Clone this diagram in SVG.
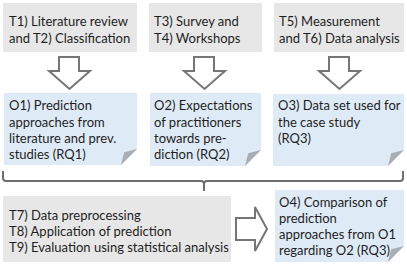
<svg xmlns="http://www.w3.org/2000/svg" width="407" height="265" viewBox="0 0 407 265">
<style>
.task{fill:#e7e7e7}
.out{fill:#deebf7}
.fold{fill:#a9aeb4}
.arr{fill:#ffffff;stroke:#767676;stroke-width:2;stroke-linejoin:miter}
.brace{fill:none;stroke:#6e6e6e;stroke-width:2}
text{font-family:Lato,"Liberation Sans",sans-serif;font-size:13px;fill:#1e1e1e}
</style>
<rect width="407" height="265" fill="#ffffff"/>
<g id="t1t2"><rect class="task" x="3" y="3" width="134" height="49"/><text x="9" y="26">T1) Literature review</text><text x="9" y="43">and T2) Classification</text></g>
<g id="t3t4"><rect class="task" x="149" y="3" width="113" height="49"/><text x="154" y="26">T3) Survey and</text><text x="154" y="43">T4) Workshops</text></g>
<g id="t5t6"><rect class="task" x="274" y="3" width="130" height="49"/><text x="279" y="26">T5) Measurement</text><text x="279" y="43">and T6) Data analysis</text></g>
<g id="o1"><path class="out" d="M4,93 H137 V149 L121,165 H4 Z"/><path class="fold" d="M121,165 L124.2,152.2 L137,149 Z"/><text x="9" y="110">O1) Prediction</text><text x="9" y="127">approaches from</text><text x="9" y="143">literature and prev.</text><text x="9" y="159">studies (RQ1)</text></g>
<g id="o2"><path class="out" d="M150,93 H261 V150 L245,166 H150 Z"/><path class="fold" d="M245,166 L248.2,153.2 L261,150 Z"/><text x="154" y="110">O2) Expectations</text><text x="154" y="127">of practitioners</text><text x="154" y="143">towards pre-</text><text x="154" y="159">diction (RQ2)</text></g>
<g id="o3"><path class="out" d="M273,94 H404 V150 L388,166 H273 Z"/><path class="fold" d="M388,166 L391.2,153.2 L404,150 Z"/><text x="278" y="110">O3) Data set used for</text><text x="278" y="127">the case study</text><text x="278" y="143">(RQ3)</text></g>
<g id="t7t9"><rect class="task" x="3" y="196" width="228" height="66"/><text x="9" y="220">T7) Data preprocessing</text><text x="9" y="236">T8) Application of prediction</text><text x="9" y="252">T9) Evaluation using statistical analysis</text></g>
<g id="o4"><path class="out" d="M275,190 H404 V246 L388,262 H275 Z"/><path class="fold" d="M388,262 L391.2,249.2 L404,246 Z"/><text x="279" y="207">O4) Comparison of</text><text x="279" y="223">prediction</text><text x="279" y="239">approaches from O1</text><text x="279" y="255">regarding O2 (RQ3)</text></g>
<g id="connectors">
<path class="arr" d="M59,57 H79 V71 H90 L69.5,89 L49,71 H59 Z"/>
<path class="arr" d="M194,57 H214 V71 H225 L204.5,89 L184,71 H194 Z"/>
<path class="arr" d="M329,57 H349 V71 H360 L339.5,89 L319,71 H329 Z"/>
<path class="brace" d="M3,171 V178 Q3,181 6,181 H201 Q204,181 204,184 V191 M204,184 Q204,181 207,181 H400 Q403,181 403,178 V171"/>
<path class="arr" d="M236,218 H255 V207 L267,229 L255,251 V240 H236 Z"/>
</g>
</svg>
